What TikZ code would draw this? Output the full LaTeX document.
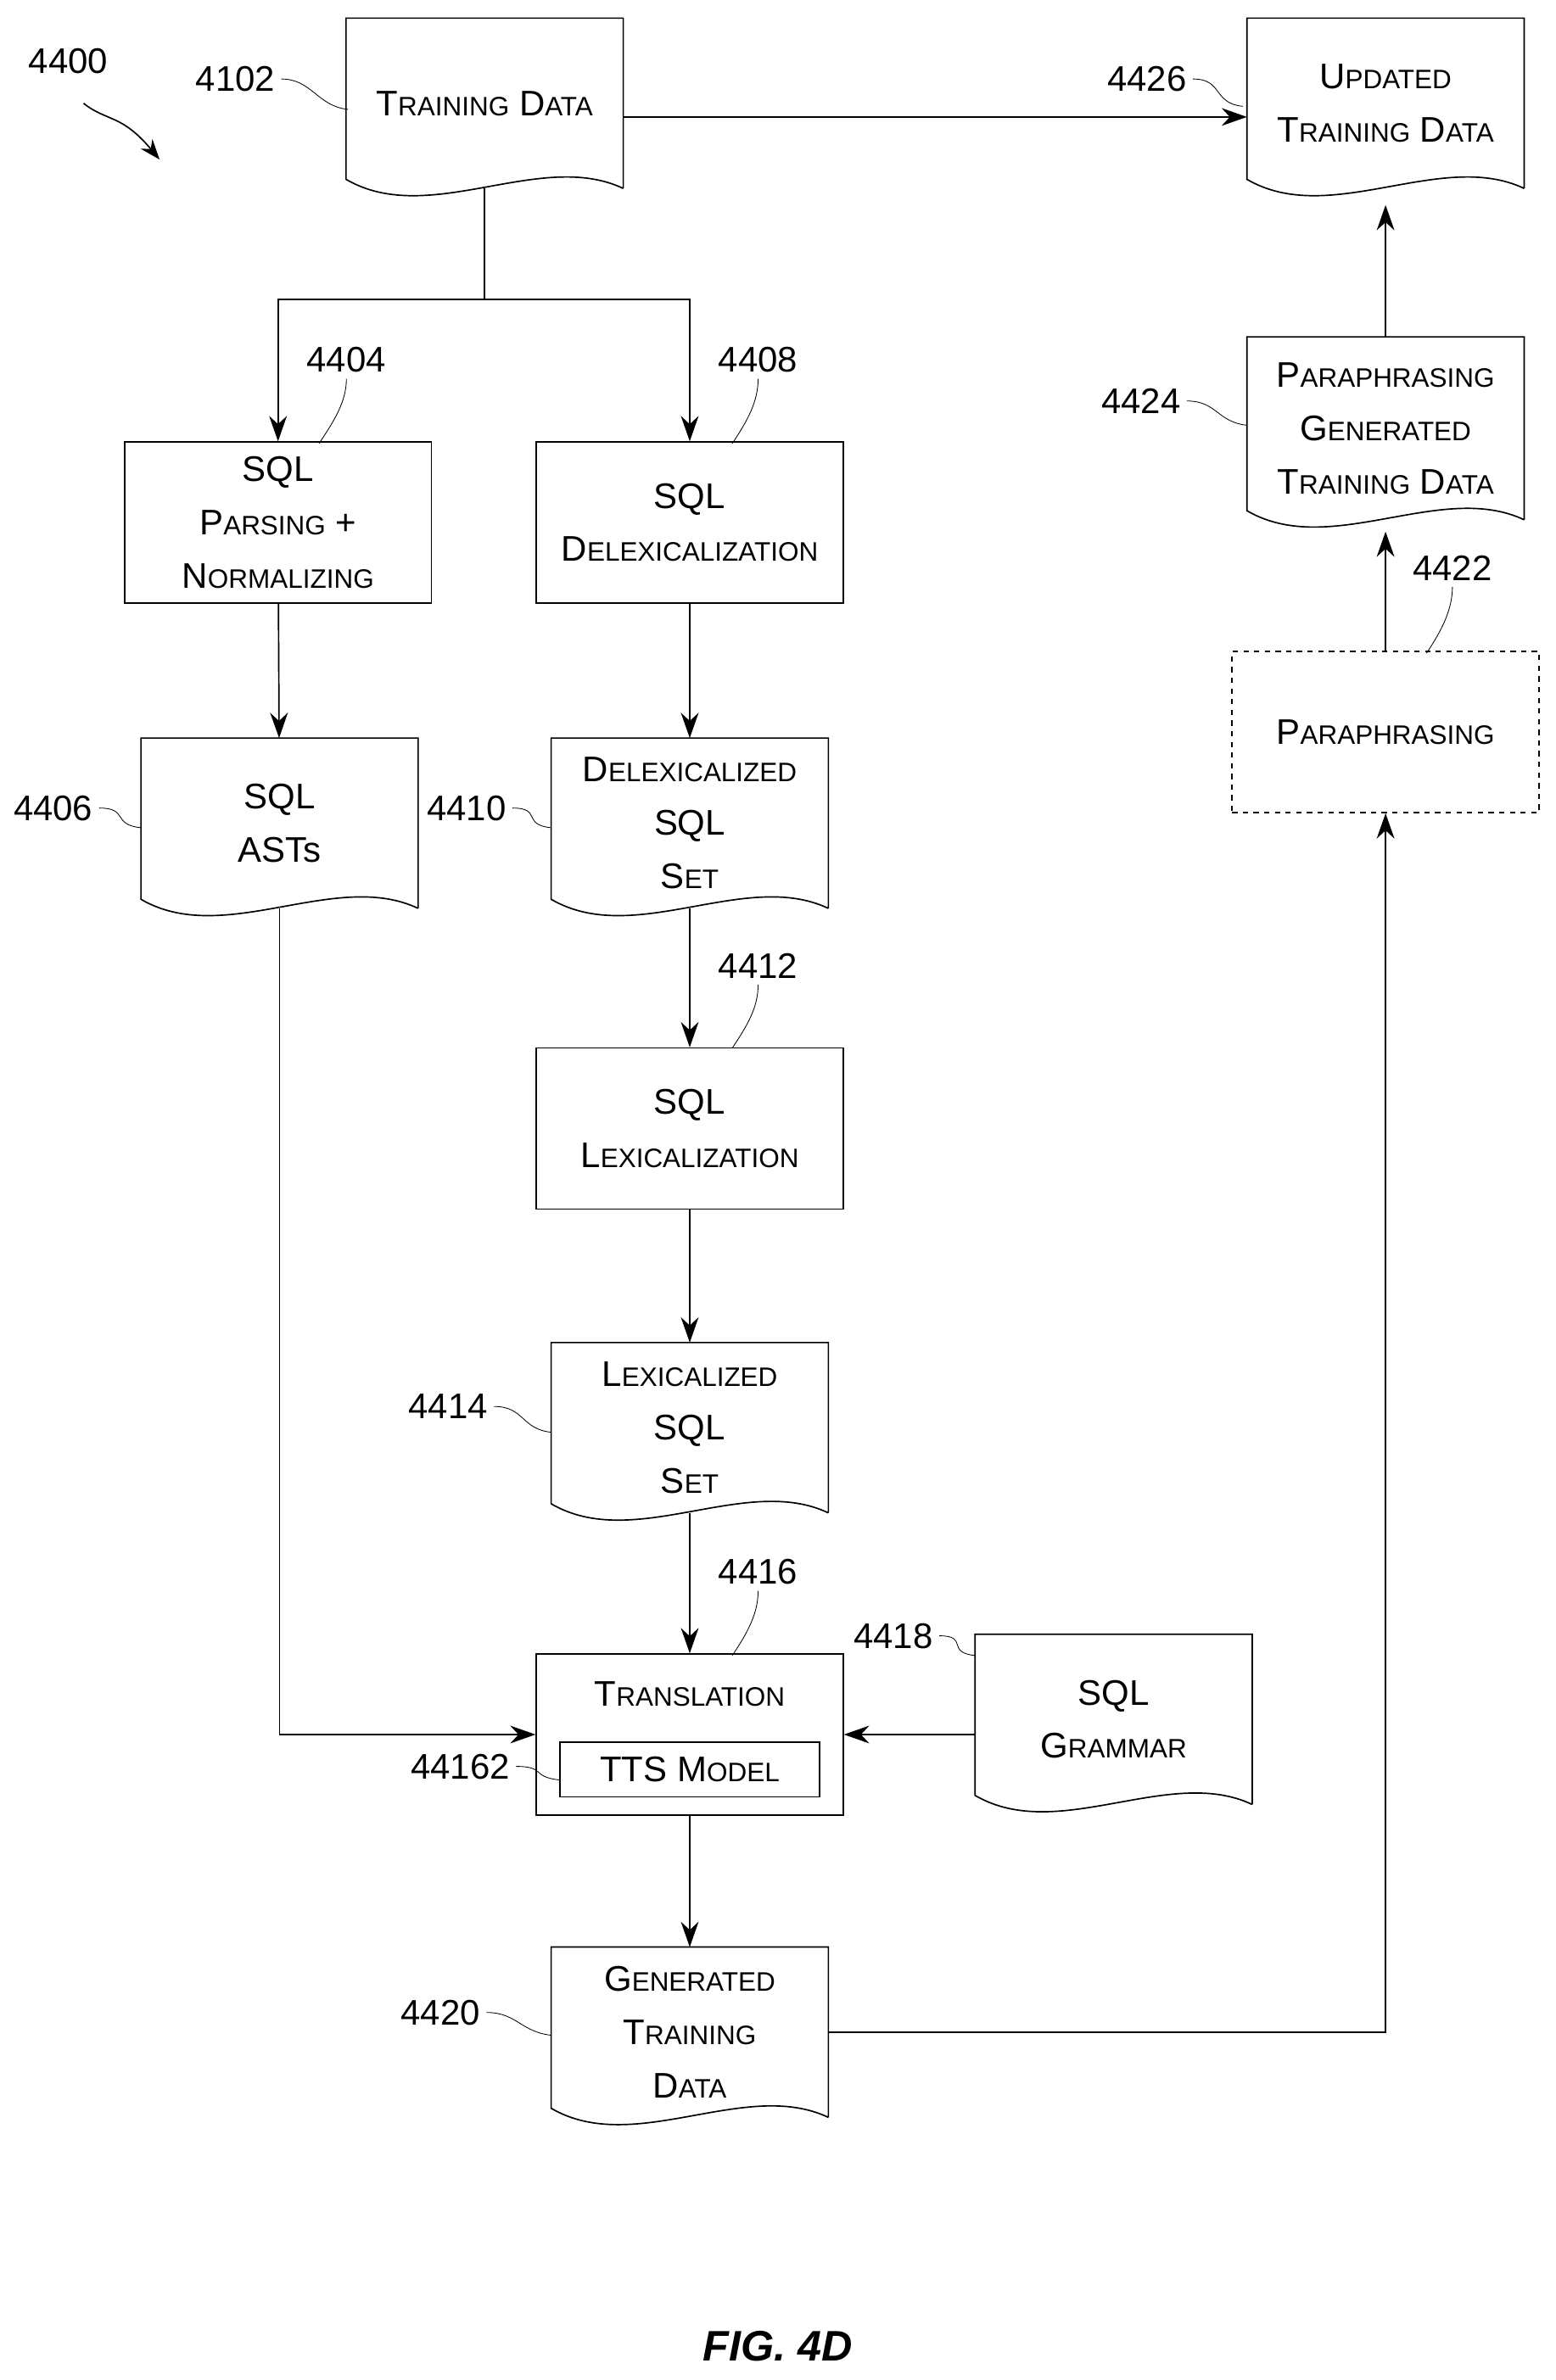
\documentclass[tikz,border=0pt]{standalone}
\usepackage{fontspec}
\setmainfont{Liberation Sans}
\usetikzlibrary{arrows.meta,calc}
\newcommand\sm[1]{{\fontsize{15}{18}\selectfont #1}}
\newcommand\docshape[1]{\draw[thick] (#1.south east) -- (#1.north east) -- (#1.north west) -- ($(#1.south west)+(0,-6)$)
  .. controls ($(#1.south west)!0.6!(#1.south)+(0,26)$) and ($(#1.south)!0.4!(#1.south east)+(0,-26)$) .. (#1.south east);}
\begin{document}
\begin{tikzpicture}[x=0.03cm,y=-0.03cm,
    box/.style ={rectangle, draw=black, thick, minimum width=6.06cm, minimum height=3.18cm,
      align=center, font=\fontsize{20}{30}\selectfont},
    doc/.style ={rectangle, minimum width=5.46cm, minimum height=3.35cm,
      align=center, font=\fontsize{20}{30}\selectfont},
    line/.style ={draw, thick, -{Stealth[length=5mm,width=3.5mm]}},
    lbl/.style ={font=\fontsize{20}{24}\selectfont},
    lead/.style ={thin}]
  \useasboundingbox (0,0) rectangle (1024,1567);

  % documents
  \node [doc] (train) at (319,68) {T\sm{RAINING} D\sm{ATA}};
  \node [doc] (upd) at (912,68) {U\sm{PDATED}\\T\sm{RAINING} D\sm{ATA}};
  \node [doc] (asts) at (184,542) {SQL\\ASTs};
  \node [doc] (delset) at (454,542) {D\sm{ELEXICALIZED}\\SQL\\S\sm{ET}};
  \node [doc] (lexset) at (454,940) {L\sm{EXICALIZED}\\SQL\\S\sm{ET}};
  \node [doc] (gram) at (733,1132) {SQL\\G\sm{RAMMAR}};
  \node [doc] (gen) at (454,1338) {G\sm{ENERATED}\\T\sm{RAINING}\\D\sm{ATA}};
  \node [doc, minimum height=3.6cm] (pgen) at (912,282) {P\sm{ARAPHRASING}\\G\sm{ENERATED}\\T\sm{RAINING} D\sm{ATA}};
  \foreach \d in {train,upd,asts,delset,lexset,gram,gen,pgen} {\docshape{\d}}

  % process boxes
  \node [box] (parse) at (183,344) {SQL\\P\sm{ARSING} +\\N\sm{ORMALIZING}};
  \node [box] (delex) at (454,344) {SQL\\D\sm{ELEXICALIZATION}};
  \node [box] (lex) at (454,743) {SQL\\L\sm{EXICALIZATION}};
  \node [box, text depth=1.6cm, font=\fontsize{20}{24}\selectfont] (trans) at (454,1142) {T\sm{RANSLATION}};
  \node [rectangle, draw=black, thick, minimum width=5.13cm, minimum height=1.08cm,
    font=\fontsize{20}{24}\selectfont] (tts) at (454,1165) {TTS M\sm{ODEL}};
  \node [box, dashed] (para) at (912,482) {P\sm{ARAPHRASING}};

  % connectors
  \coordinate (split) at (319,197);
  \draw[thick] (train.south) -- (split);
  \draw[line] (split) -| (parse.north);
  \draw[line] (split) -| (delex.north);
  \draw[line] (train.east |- 0,77) -- (upd.west |- 0,77);
  \draw[line] (parse) -- (asts);
  \draw[line] (delex) -- (delset);
  \draw[line] (delset.south) -- (lex);
  \draw[line] (lex) -- (lexset);
  \draw[line] (lexset.south) -- (trans);
  \draw[line] (asts.south) |- (trans.west);
  \draw[line] (gram.west |- trans) -- (trans.east);
  \draw[line] (trans) -- (gen);
  \draw[line] (gen.east) -| (para.south);
  \draw[line] (para) -- (pgen.south |- 0,350);
  \draw[line] (pgen) -- (upd.south |- 0,135);

  % reference labels
  \node [lbl] (l4400) at (45,40) {4400};
  \coordinate (a4400) at (105,105);
  \draw[thick, -{Stealth[length=4mm,width=3mm]}] (55,68) .. controls (70,80) and (80,75) .. (a4400);
  \foreach \n/\lx/\ly/\tx/\ty in {4102/155/52/229/72, 4426/755/52/818/70, 4404/228/237/210/292,
      4408/499/237/482/292, 4406/35/532/93/545, 4410/307/532/363/545, 4412/499/636/482/690,
      4414/295/926/363/943, 4416/499/1035/482/1090, 4418/588/1077/642/1090,
      44162/303/1163/369/1172, 4420/290/1325/363/1340, 4422/956/374/939/430, 4424/751/264/821/280} {
    \node [lbl] (l\n) at (\lx,\ly) {\n};
    \coordinate (t\n) at (\tx,\ty);
  }
  \foreach \n in {4102,4426,4406,4410,4414,4418,44162,4420,4424} {
    \draw[lead] (l\n.east) .. controls +(20,0) and +(-20,-2) .. (t\n);
  }
  \foreach \n in {4404,4408,4412,4416,4422} {
    \draw[lead] (l\n.south) .. controls +(0,15) and +(10,-15) .. (t\n);
  }

  \node [font=\bfseries\itshape\fontsize{24}{28}\selectfont] (fig) at (512,1545) {FIG. 4D};
\end{tikzpicture}
\end{document}
